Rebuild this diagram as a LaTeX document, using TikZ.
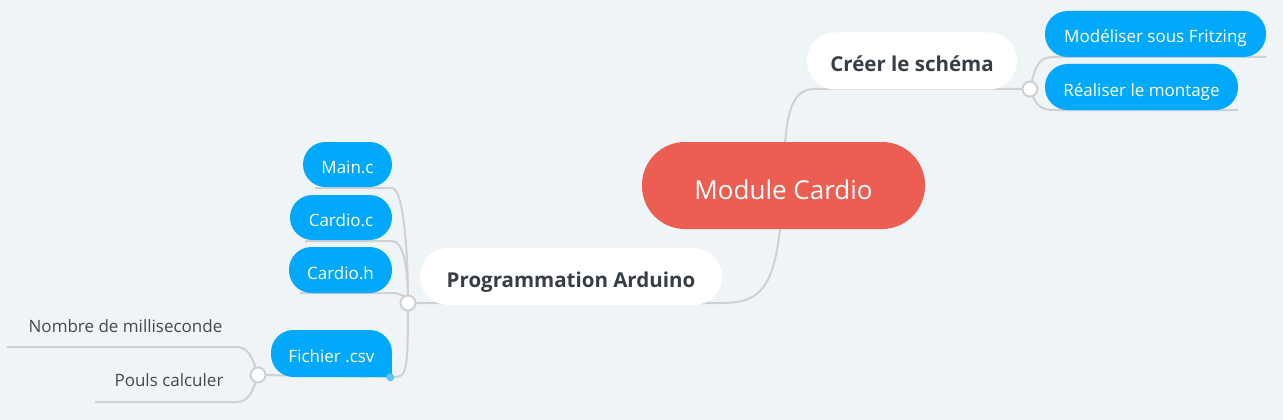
\documentclass[tikz,border=0pt]{standalone}
\usepackage{fontspec}
\setmainfont{Open Sans}
\definecolor{bgcol}{RGB}{239,244,247}
\definecolor{rootred}{RGB}{235,94,81}
\definecolor{subblue}{RGB}{2,168,250}
\definecolor{dotblue}{RGB}{90,195,250}
\definecolor{darktext}{RGB}{55,62,70}
\definecolor{leaftext}{RGB}{70,72,76}
\definecolor{linegray}{RGB}{205,209,212}
\begin{document}
\begin{tikzpicture}[x=1pt,y=-1pt,
 conn/.style={draw=linegray, line width=2pt},
 root/.style={fill=rootred, text=white, rounded corners=43pt, minimum width=283pt, minimum height=87pt, inner sep=0pt, text height=27.6pt, text depth=0pt, font=\fontsize{26}{30}\selectfont},
 mainbox/.style={fill=white, text=darktext, rounded corners=28pt, minimum height=57pt, inner sep=0pt, text height=21pt, text depth=0pt, font=\fontsize{20.5}{24}\selectfont\bfseries},
 subbox/.style={fill=subblue, text=white, rounded corners=22.5pt, minimum height=46pt, inner sep=0pt, text height=18pt, text depth=0pt, font=\fontsize{17}{20}\selectfont},
 leaf/.style={text=leaftext, inner sep=0pt, text height=12.1pt, text depth=0pt, font=\fontsize{17}{20}\selectfont},
 junction/.style={circle, draw=linegray, line width=2pt, fill=white, minimum size=15pt, inner sep=0pt}]
\fill[bgcol] (0,0) rectangle (1283,420);
\useasboundingbox (0,0) rectangle (1283,420);

% junction positions
\coordinate (j1c) at (1030,89);
\coordinate (j2c) at (408,303);
\coordinate (j3c) at (258,375);

% connectors (behind nodes)
\draw[conn] (783.5,185.5) .. controls (784,110) and (792,89) .. (815,89) -- (j1c);
\draw[conn] (783.5,185.5) .. controls (778,280) and (768,303) .. (722,303) -- (j2c);
% right junction branches
\draw[conn] (j1c) .. controls (1036,62) and (1040,57) .. (1055,57) -- (1266,57);
\draw[conn] (j1c) .. controls (1036,106) and (1040,110) .. (1055,110) -- (1238,110);
% left junction branches
\draw[conn] (j2c) .. controls (408,240) and (402,188) .. (392,188) -- (315,188);
\draw[conn] (j2c) .. controls (408,265) and (403,241) .. (392,241) -- (305,241);
\draw[conn] (j2c) .. controls (406,296) and (400,293) .. (392,293) -- (300,293);
\draw[conn] (j2c) .. controls (408,365) and (407,377) .. (396,377) -- (j3c);
% fichier junction branches
\draw[conn] (j3c) .. controls (252,356) and (248,347) .. (236,347) -- (7,347);
\draw[conn] (j3c) .. controls (252,394) and (248,402) .. (236,402) -- (95,402);

% nodes
\node[root] (root) at (783.5,185.5) {Module Cardio};
\node[mainbox, minimum width=210pt] (cree) at (912,61) {Créer le schéma};
\node[mainbox, minimum width=302pt] (prog) at (571,276.5) {Programmation Arduino};
\node[subbox, minimum width=221pt] (mod) at (1155.5,34) {Modéliser sous Fritzing};
\node[subbox, minimum width=193pt] (real) at (1141.5,87) {Réaliser le montage};
\node[subbox, minimum width=89pt, minimum height=45pt] (mainc) at (347.5,164.5) {Main.c};
\node[subbox, minimum width=102pt, minimum height=45pt] (cardioc) at (341,217.5) {Cardio.c};
\node[subbox, minimum width=103pt, minimum height=46pt] (cardioh) at (340.5,270) {Cardio.h};
\node[subbox, minimum width=121pt, minimum height=47pt] (fichier) at (331.5,353.5) {};
\fill[subblue] ([xshift=-24pt]fichier.east) rectangle (fichier.south east);
\node[subbox, fill=none, minimum width=121pt, minimum height=47pt] (fichiertxt) at (fichier.center) {Fichier .csv};
\fill[dotblue] ([xshift=-2pt]fichier.south east) circle (4pt);
\node[leaf] (nombre) at (125.5,326.7) {Nombre de milliseconde};
\node[leaf] (pouls) at (169,380.8) {Pouls calculer};

% junction circles
\node[junction] (j1) at (j1c) {};
\node[junction] (j2) at (j2c) {};
\node[junction] (j3) at (j3c) {};
\end{tikzpicture}
\end{document}
